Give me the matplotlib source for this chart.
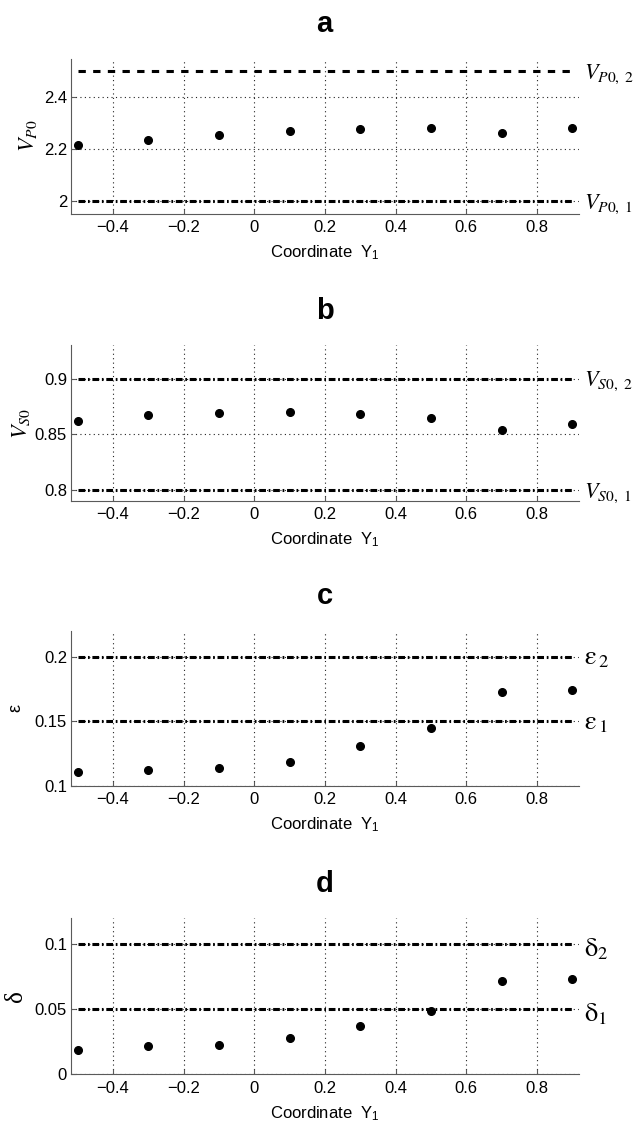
import matplotlib
matplotlib.use("Agg")
import matplotlib.pyplot as plt
from matplotlib.ticker import FixedLocator, FuncFormatter

plt.rcParams["font.family"] = ["Liberation Sans", "DejaVu Sans"]
plt.rcParams["mathtext.fontset"] = "stix"

# sampling positions along Y1 and the x grid
coord_y1 = [-0.5, -0.3, -0.1, 0.1, 0.3, 0.5, 0.7, 0.9]
x_ticks = [-0.4, -0.2, 0, 0.2, 0.4, 0.6, 0.8]

# estimated parameters at each position
v_p0 = [2.218, 2.235, 2.255, 2.272, 2.279, 2.282, 2.263, 2.281]
v_s0 = [0.862, 0.867, 0.869, 0.870, 0.868, 0.865, 0.854, 0.859]
epsilon = [0.1106, 0.1124, 0.1137, 0.1186, 0.1307, 0.1448, 0.1729, 0.1740]
delta = [0.0187, 0.0218, 0.0228, 0.0277, 0.0369, 0.0487, 0.0718, 0.0736]

# prior bounds (lower, upper)
v_p0_bounds = [2.0, 2.5]
v_s0_bounds = [0.8, 0.9]
epsilon_bounds = [0.15, 0.2]
delta_bounds = [0.05, 0.1]

v_p0_yticks = [2, 2.2, 2.4]
v_s0_yticks = [0.8, 0.85, 0.9]
epsilon_yticks = [0.1, 0.15, 0.2]
delta_yticks = [0, 0.05, 0.1]

DASH_DOT = (0, (2.2, 0.9, 0.55, 0.9))
DASHED = (0, (2.4, 2.4))
SPINE = "#5a5a5a"

FIG_W, FIG_H = 643, 1127
AX_LEFT, AX_WIDTH = 70.5, 508.2

panels = [
    dict(letter="a", values=v_p0, bounds=v_p0_bounds, yticks=v_p0_yticks,
         ylim=(1.95, 2.55), top_px=58.5, bottom_px=214.0,
         ylabel=r"$V_{P0}$", ylabel_kw=dict(fontsize=16), ylabel_x=-0.062,
         bound_labels=[r"$V_{P0,\ 1}$", r"$V_{P0,\ 2}$"], bound_fs=16, bound_dy=5.5,
         bound_styles=[DASH_DOT, DASHED]),
    dict(letter="b", values=v_s0, bounds=v_s0_bounds, yticks=v_s0_yticks,
         ylim=(0.79, 0.93), top_px=345.3, bottom_px=501.1,
         ylabel=r"$V_{S0}$", ylabel_kw=dict(fontsize=16), ylabel_x=-0.076,
         bound_labels=[r"$V_{S0,\ 1}$", r"$V_{S0,\ 2}$"], bound_fs=16, bound_dy=5.5,
         bound_styles=[DASH_DOT, DASH_DOT]),
    dict(letter="c", values=epsilon, bounds=epsilon_bounds, yticks=epsilon_yticks,
         ylim=(0.1, 0.22), top_px=630.8, bottom_px=786.0,
         ylabel="ε", ylabel_kw=dict(fontsize=13), ylabel_x=-0.09,
         bound_labels=[r"$\mathrm{\varepsilon}_{\,1}$", r"$\mathrm{\varepsilon}_{\,2}$"],
         bound_fs=19, bound_dy=5.5, bound_styles=[DASH_DOT, DASH_DOT]),
    dict(letter="d", values=delta, bounds=delta_bounds, yticks=delta_yticks,
         ylim=(0.0, 0.12), top_px=918.3, bottom_px=1074.3,
         ylabel="δ", ylabel_kw=dict(fontsize=18, family="Liberation Serif"), ylabel_x=-0.086,
         bound_labels=[r"$\mathrm{\delta}_{1}$", r"$\mathrm{\delta}_{2}$"],
         bound_fs=19, bound_dy=9, bound_styles=[DASH_DOT, DASH_DOT]),
]


def fmt(v, _pos=None):
    return f"{v:g}".replace("-", "\u2212")


fig = plt.figure(figsize=(FIG_W / 100, FIG_H / 100), dpi=100)

for p in panels:
    ax = fig.add_axes([AX_LEFT / FIG_W, 1 - p["bottom_px"] / FIG_H,
                       AX_WIDTH / FIG_W, (p["bottom_px"] - p["top_px"]) / FIG_H])
    ax.set_xlim(-0.52, 0.918)
    ax.set_ylim(*p["ylim"])

    ax.xaxis.set_major_locator(FixedLocator(x_ticks))
    ax.yaxis.set_major_locator(FixedLocator(p["yticks"]))
    ax.xaxis.set_major_formatter(FuncFormatter(fmt))
    ax.yaxis.set_major_formatter(FuncFormatter(fmt))

    ax.grid(True, linestyle=(0, (1, 3)), linewidth=0.8, color="#222222")
    ax.set_axisbelow(True)

    for spine in ("top", "right"):
        ax.spines[spine].set_visible(False)
    for spine in ("left", "bottom"):
        ax.spines[spine].set_color(SPINE)
        ax.spines[spine].set_linewidth(0.8)
    ax.tick_params(direction="in", length=3.5, width=0.8, color=SPINE, labelsize=12)
    ax.tick_params(axis="x", pad=4.5)
    ax.tick_params(axis="y", pad=2.5)

    # bound lines with their labels on the right
    for bound, label, style in zip(p["bounds"], p["bound_labels"], p["bound_styles"]):
        ax.plot([coord_y1[0], coord_y1[-1]], [bound, bound], color="k",
                linestyle=style, linewidth=2.2, zorder=2)
        ax.annotate(label, xy=(1, bound), xycoords=("axes fraction", "data"),
                    xytext=(4, -p["bound_dy"]), textcoords="offset points",
                    ha="left", va="baseline", fontsize=p["bound_fs"],
                    annotation_clip=False)

    ax.plot(coord_y1, p["values"], "o", color="k", markersize=5.5, zorder=3)

    ax.set_title(p["letter"], fontsize=21, fontweight="bold", pad=19)
    ax.set_xlabel(r"Coordinate  $\mathregular{Y_1}$", fontsize=12)
    ax.xaxis.set_label_coords(0.5, -0.19)
    ax.set_ylabel(p["ylabel"], **p["ylabel_kw"])
    ax.yaxis.set_label_coords(p["ylabel_x"], 0.5)

fig.savefig("out.png", dpi=100)
